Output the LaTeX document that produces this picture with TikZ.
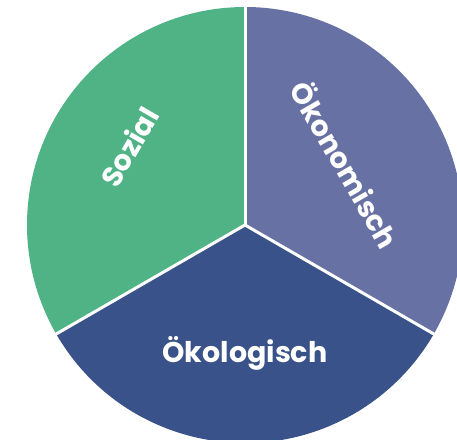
\documentclass[tikz,border=0pt]{standalone}
\usepackage{fontspec}
\setmainfont{Poppins}
\definecolor{sozialgreen}{RGB}{79,179,133}
\definecolor{oekonomblue}{RGB}{103,113,164}
\definecolor{oekologblue}{RGB}{58,82,138}
\tikzset{
  sector label/.style={text=white, font=\bfseries\fontsize{28.5}{28.5}\selectfont, inner sep=0pt},
  divider/.style={white, line width=3pt}
}
\begin{document}
\begin{tikzpicture}[x=1pt,y=1pt]
    \useasboundingbox (0,0) rectangle (457,439);
    \clip (0,0) rectangle (457,439);
    \begin{scope}[shift={(245,214)}]
    % Sectors:
    \fill[sozialgreen] (0,0) -- (90:218) arc (90:210:218) -- cycle;
    \fill[oekologblue] (0,0) -- (210:218) arc (210:330:218) -- cycle;
    \fill[oekonomblue] (0,0) -- (330:218) arc (330:450:218) -- cycle;

    % Dividers:
    \coordinate (c) at (0,0);
    \coordinate (t) at (90:222);
    \coordinate (l) at (210:222);
    \coordinate (r) at (330:222);
    \draw[divider] (c) -- (t);
    \draw[divider] (c) -- (l);
    \draw[divider] (c) -- (r);

    % Labels:
    \node[sector label, rotate=60] (sozial) at (146:140) {Sozial};
    \node[sector label, rotate=-60] (oekonom) at (31:118) {Ökonomisch};
    \node[sector label] (oekolog) at (270:128) {Ökologisch};
    \end{scope}
\end{tikzpicture}
\end{document}
